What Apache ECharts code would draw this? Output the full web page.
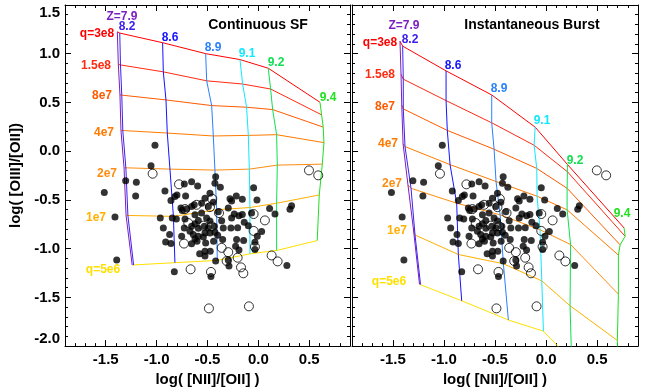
<!DOCTYPE html>
<html>
<head>
<meta charset="utf-8">
<script src="https://cdn.jsdelivr.net/npm/echarts@6/dist/echarts.min.js"></script>
<style>
  html, body { margin: 0; padding: 0; background: #fff; }
  #chart { width: 657px; height: 392px; }
</style>
</head>
<body>
<div id="chart"></div>
<script>
// Metallicity (12+log O/H) and ionization parameter q of the model grids
const zValues = ['7.9', '8.2', '8.6', '8.9', '9.1', '9.2', '9.4'];
const qValues = ['3e8', '1.5e8', '8e7', '4e7', '2e7', '1e7', '5e6'];

// Continuous star formation grid: one row per q, one [x, y] pair per Z
const contGrid = [
  [[-1.386, 1.225], [-1.362, 1.212], [-0.941, 1.113], [-0.518, 1.001], [-0.181, 0.940], [0.097, 0.851], [0.605, 0.502]],
  [[-1.376, 0.892], [-1.355, 0.885], [-0.934, 0.814], [-0.508, 0.722], [-0.155, 0.689], [0.120, 0.638], [0.621, 0.373]],
  [[-1.360, 0.577], [-1.342, 0.572], [-0.908, 0.526], [-0.459, 0.468], [-0.116, 0.451], [0.140, 0.427], [0.637, 0.247]],
  [[-1.350, 0.213], [-1.332, 0.208], [-0.895, 0.186], [-0.443, 0.156], [-0.099, 0.162], [0.179, 0.169], [0.644, 0.088]],
  [[-1.320, -0.170], [-1.302, -0.172], [-0.869, -0.184], [-0.427, -0.194], [-0.089, -0.184], [0.186, -0.143], [0.628, -0.133]],
  [[-1.300, -0.659], [-1.282, -0.660], [-0.835, -0.669], [-0.410, -0.601], [-0.083, -0.578], [0.179, -0.534], [0.598, -0.449]],
  [[-1.240, -1.168], [-1.226, -1.168], [-0.820, -1.144], [-0.404, -1.121], [-0.083, -1.053], [0.179, -1.019], [0.578, -0.917]]
];

// Instantaneous burst grid: same layout
const burstGrid = [
  [[-1.430, 1.129], [-1.404, 1.078], [-0.979, 0.824], [-0.532, 0.577], [-0.107, 0.247], [0.209, -0.136], [0.764, -0.788]],
  [[-1.420, 0.790], [-1.398, 0.739], [-0.979, 0.519], [-0.532, 0.291], [-0.117, 0.061], [0.209, -0.211], [0.774, -0.873]],
  [[-1.413, 0.475], [-1.398, 0.434], [-0.967, 0.213], [-0.509, 0.020], [-0.091, -0.177], [0.206, -0.381], [0.725, -0.961]],
  [[-1.400, 0.077], [-1.381, 0.047], [-0.940, -0.138], [-0.490, -0.311], [-0.088, -0.462], [0.206, -0.602], [0.708, -1.066]],
  [[-1.352, -0.347], [-1.322, -0.381], [-0.875, -0.534], [-0.450, -0.653], [-0.059, -0.806], [0.240, -0.958], [0.708, -1.467]],
  [[-1.300, -0.788], [-1.283, -0.860], [-0.859, -1.060], [-0.418, -1.155], [-0.042, -1.331], [0.235, -1.586], [0.698, -1.942]],
  [[-1.239, -1.366], [-1.229, -1.369], [-0.826, -1.535], [-0.369, -1.732], [-0.026, -1.847], [0.250, -2.150], [0.700, -2.600]]
];

// Observed galaxies: log([NII]/[OII]), log([OIII]/[OII])
const galaxiesFilled = [
  [-1.016, 0.060], [-1.055, -0.150], [-1.304, -0.303], [-1.199, -0.320], [-1.514, -0.425],
  [-1.206, -0.459], [-1.409, -0.676], [-1.392, -1.117], [-0.826, -1.236], [-0.466, -1.287],
  [-0.656, -0.313], [-0.728, -0.337], [-0.597, -0.357], [-0.420, -0.262], [-0.427, -0.330],
  [-0.374, -0.370], [-0.047, -0.374], [-0.918, -0.408], [-0.800, -0.449], [-0.820, -0.466],
  [-0.715, -0.459], [-0.476, -0.432], [-0.525, -0.483], [-0.279, -0.489], [-0.263, -0.510],
  [-0.217, -0.459], [-0.158, -0.493], [-0.014, -0.500], [-0.859, -0.506], [-0.443, -0.523],
  [-0.630, -0.550], [-0.656, -0.567], [-0.761, -0.584], [-0.748, -0.608], [-0.705, -0.594],
  [-0.558, -0.533], [-0.492, -0.567], [-0.394, -0.622], [-0.296, -0.584], [0.110, -0.588],
  [0.326, -0.561], [0.310, -0.595], [0.163, -0.645], [-0.964, -0.686], [-0.846, -0.686],
  [-0.806, -0.696], [-0.721, -0.696], [-0.623, -0.652], [-0.590, -0.710], [-0.558, -0.635],
  [-0.509, -0.686], [-0.476, -0.717], [-0.361, -0.713], [-0.263, -0.686], [-0.237, -0.645],
  [-0.191, -0.662], [-0.158, -0.649], [-0.067, -0.635], [-0.139, -0.730], [-0.934, -0.788],
  [-0.728, -0.788], [-0.656, -0.771], [-0.672, -0.822], [-0.623, -0.744], [-0.590, -0.791],
  [-0.531, -0.771], [-0.492, -0.788], [-0.433, -0.771], [-0.345, -0.788], [-0.270, -0.788],
  [-0.204, -0.785], [-0.099, -0.764], [0.032, -0.825], [-0.872, -0.856], [-0.754, -0.873],
  [-0.640, -0.856], [-0.623, -0.900], [-0.590, -0.873], [-0.525, -0.839], [-0.541, -0.880],
  [-0.476, -0.839], [-0.427, -0.832], [-0.400, -0.863], [-0.351, -0.907], [-0.214, -0.907],
  [-0.145, -0.917], [-0.011, -0.873], [-0.034, -0.934], [-0.911, -0.931], [-0.859, -0.948],
  [-0.656, -0.951], [-0.603, -0.924], [-0.518, -0.941], [-0.440, -0.924], [-0.224, -0.975],
  [-0.191, -1.015], [-0.034, -1.009], [-0.577, -1.053], [-0.525, -1.026], [-0.473, -1.026],
  [-0.525, -1.076], [-0.420, -1.127], [-0.296, -1.117], [-0.289, -1.178], [0.280, -1.172]
];
const galaxiesOpen = [
  [-1.039, -0.231], [-0.780, -0.340], [0.497, -0.197], [0.588, -0.248], [-0.453, -0.489],
  [-0.476, -0.574], [-0.607, -0.550], [-0.721, -0.594], [-0.387, -0.635], [-0.047, -0.645],
  [0.064, -0.710], [-0.689, -0.737], [-0.541, -0.764], [-0.459, -0.771], [-0.047, -0.818],
  [-0.731, -0.948], [-0.361, -0.992], [-0.296, -1.036], [-0.034, -0.981], [-0.204, -1.093],
  [-0.312, -1.127], [0.130, -1.070], [0.189, -1.131], [-0.171, -1.192], [-0.148, -1.253],
  [-0.666, -1.212], [-0.466, -1.239], [-0.486, -1.613], [-0.093, -1.592]
];

// Axis ranges and labelled ticks
const xRange = [-1.9, 0.9];
const yRange = [-2.0, 1.5];
const xMajorTicks = [-1.5, -1.0, -0.5, 0.0, 0.5];
const xMinorTicks = [];
for (let i = -19; i <= 9; i++) xMinorTicks.push(i / 10);

const qColors = ['#ff0000', '#ff2a10', '#ff5a00', '#ff7a00', '#ff8c10', '#ffb000', '#ffe000'];
const zColors = ['#7a1fc0', '#3c20f0', '#1414ff', '#2a80ff', '#10e8ff', '#10e050', '#20e020'];

const FONT = '"Liberation Sans", Arial, Helvetica, sans-serif';

const panels = [
  { left: 65, width: 285, grid: contGrid, showY: true },
  { left: 352, width: 286, grid: burstGrid, showY: false }
];

const grids = [], xAxes = [], yAxes = [], series = [];

panels.forEach((p, gi) => {
  grids.push({ left: p.left, top: 5, width: p.width, height: 344, containLabel: false });
  const axisText = { color: '#000', fontFamily: FONT, fontWeight: 'bold', fontSize: 15 };
  const baseX = {
    type: 'value', gridIndex: gi, min: xRange[0], max: xRange[1],
    splitLine: { show: false },
    axisLine: { onZero: false, lineStyle: { color: '#000', width: 1 } }
  };
  // bottom, labelled
  xAxes.push(Object.assign({}, baseX, {
    position: 'bottom',
    axisTick: { inside: true, length: 6, customValues: xMajorTicks, lineStyle: { color: '#000' } },
    axisLabel: Object.assign({ customValues: xMajorTicks, margin: 6, formatter: v => v.toFixed(1) }, axisText),
    name: 'log( [NII]/[OII] )', nameLocation: 'middle', nameGap: 24,
    nameTextStyle: { color: '#000', fontFamily: FONT, fontWeight: 'bold', fontSize: 15 }
  }));
  // bottom, minor ticks
  xAxes.push(Object.assign({}, baseX, {
    position: 'bottom', axisLine: { show: false, onZero: false },
    axisTick: { inside: true, length: 3, customValues: xMinorTicks, lineStyle: { color: '#000' } },
    axisLabel: { show: false }
  }));
  // top, major
  xAxes.push(Object.assign({}, baseX, {
    position: 'top',
    axisTick: { inside: true, length: 6, customValues: xMajorTicks, lineStyle: { color: '#000' } },
    axisLabel: { show: false }
  }));
  // top, minor
  xAxes.push(Object.assign({}, baseX, {
    position: 'top', axisLine: { show: false, onZero: false },
    axisTick: { inside: true, length: 3, customValues: xMinorTicks, lineStyle: { color: '#000' } },
    axisLabel: { show: false }
  }));
  const baseY = {
    type: 'value', gridIndex: gi, min: yRange[0], max: yRange[1], interval: 0.5,
    splitLine: { show: false },
    axisLine: { onZero: false, lineStyle: { color: '#000', width: 1 } },
    axisTick: { inside: true, length: 6, lineStyle: { color: '#000' } },
    minorTick: { show: true, splitNumber: 5, length: 3, lineStyle: { color: '#000' } },
    minorSplitLine: { show: false }
  };
  yAxes.push(Object.assign({}, baseY, {
    position: 'left',
    axisLabel: p.showY
      ? Object.assign({
          margin: 5, formatter: v => v.toFixed(1),
          verticalAlignMaxLabel: 'top', verticalAlignMinLabel: 'bottom'
        }, axisText)
      : { show: false },
    name: p.showY ? 'log( [OIII]/[OII])' : '',
    nameLocation: 'middle', nameGap: 42, nameRotate: 90,
    nameTextStyle: { color: '#000', fontFamily: FONT, fontWeight: 'bold', fontSize: 15 }
  }));
  yAxes.push(Object.assign({}, baseY, {
    position: 'right', axisLabel: { show: false }
  }));

  const xi = gi * 4, yi = gi * 2;
  // lines of constant q
  p.grid.forEach((row, qi) => {
    series.push({
      type: 'line', xAxisIndex: xi, yAxisIndex: yi, data: row,
      symbol: 'none', silent: true, clip: true,
      lineStyle: { color: qColors[qi], width: 1 }, z: 2
    });
  });
  // lines of constant Z
  zValues.forEach((z, zi) => {
    series.push({
      type: 'line', xAxisIndex: xi, yAxisIndex: yi,
      data: p.grid.map(row => row[zi]),
      symbol: 'none', silent: true, clip: true,
      lineStyle: { color: zColors[zi], width: 1 }, z: 2
    });
  });
  series.push({
    type: 'scatter', xAxisIndex: xi, yAxisIndex: yi, data: galaxiesFilled,
    symbol: 'circle', symbolSize: 7, silent: true,
    itemStyle: { color: '#000' }, z: 3
  });
  series.push({
    type: 'scatter', xAxisIndex: xi, yAxisIndex: yi, data: galaxiesOpen,
    symbol: 'circle', symbolSize: 9, silent: true,
    itemStyle: { color: 'rgba(0,0,0,0)', borderColor: '#000', borderWidth: 1 }, z: 4
  });
});

// Panel titles and grid annotations
function label(text, x, y, color, size) {
  return {
    type: 'text', x: x, y: y, silent: true, z: 10,
    style: {
      text: text, fill: color, font: 'bold ' + (size || 12) + 'px ' + FONT,
      textAlign: 'center', textVerticalAlign: 'middle'
    }
  };
}
const graphics = [
  label('Continuous SF', 258, 25, '#000', 14),
  label('Instantaneous Burst', 532, 25, '#000', 14),
  // Continuous SF annotations
  label('Z=7.9', 122, 17, zColors[0]), label('8.2', 127, 27, zColors[1]),
  label('8.6', 170, 38, zColors[2]), label('8.9', 213, 48, zColors[3]),
  label('9.1', 247, 54, zColors[4]), label('9.2', 276, 63, zColors[5]),
  label('9.4', 328, 98, zColors[6]),
  label('q=3e8', 97, 34, qColors[0]), label('1.5e8', 96, 66, qColors[1]),
  label('8e7', 102, 96, qColors[2]), label('4e7', 104, 133, qColors[3]),
  label('2e7', 107, 174, qColors[4]), label('1e7', 96, 218, qColors[5]),
  label('q=5e6', 103, 270, qColors[6]),
  // Instantaneous burst annotations
  label('Z=7.9', 404, 26, zColors[0]), label('8.2', 410, 40, zColors[1]),
  label('8.6', 453, 66, zColors[2]), label('8.9', 499, 89, zColors[3]),
  label('9.1', 542, 121, zColors[4]), label('9.2', 575, 161, zColors[5]),
  label('9.4', 622, 214, zColors[6]),
  label('q=3e8', 380, 43, qColors[0]), label('1.5e8', 380, 75, qColors[1]),
  label('8e7', 385, 107, qColors[2]), label('4e7', 388, 144, qColors[3]),
  label('2e7', 392, 184, qColors[4]), label('1e7', 397, 231, qColors[5]),
  label('q=5e6', 389, 282, qColors[6])
];

const chart = echarts.init(document.getElementById('chart'), null, { renderer: 'canvas' });
chart.setOption({
  animation: false,
  backgroundColor: '#fff',
  grid: grids,
  xAxis: xAxes,
  yAxis: yAxes,
  series: series,
  graphic: graphics
});
</script>
</body>
</html>
